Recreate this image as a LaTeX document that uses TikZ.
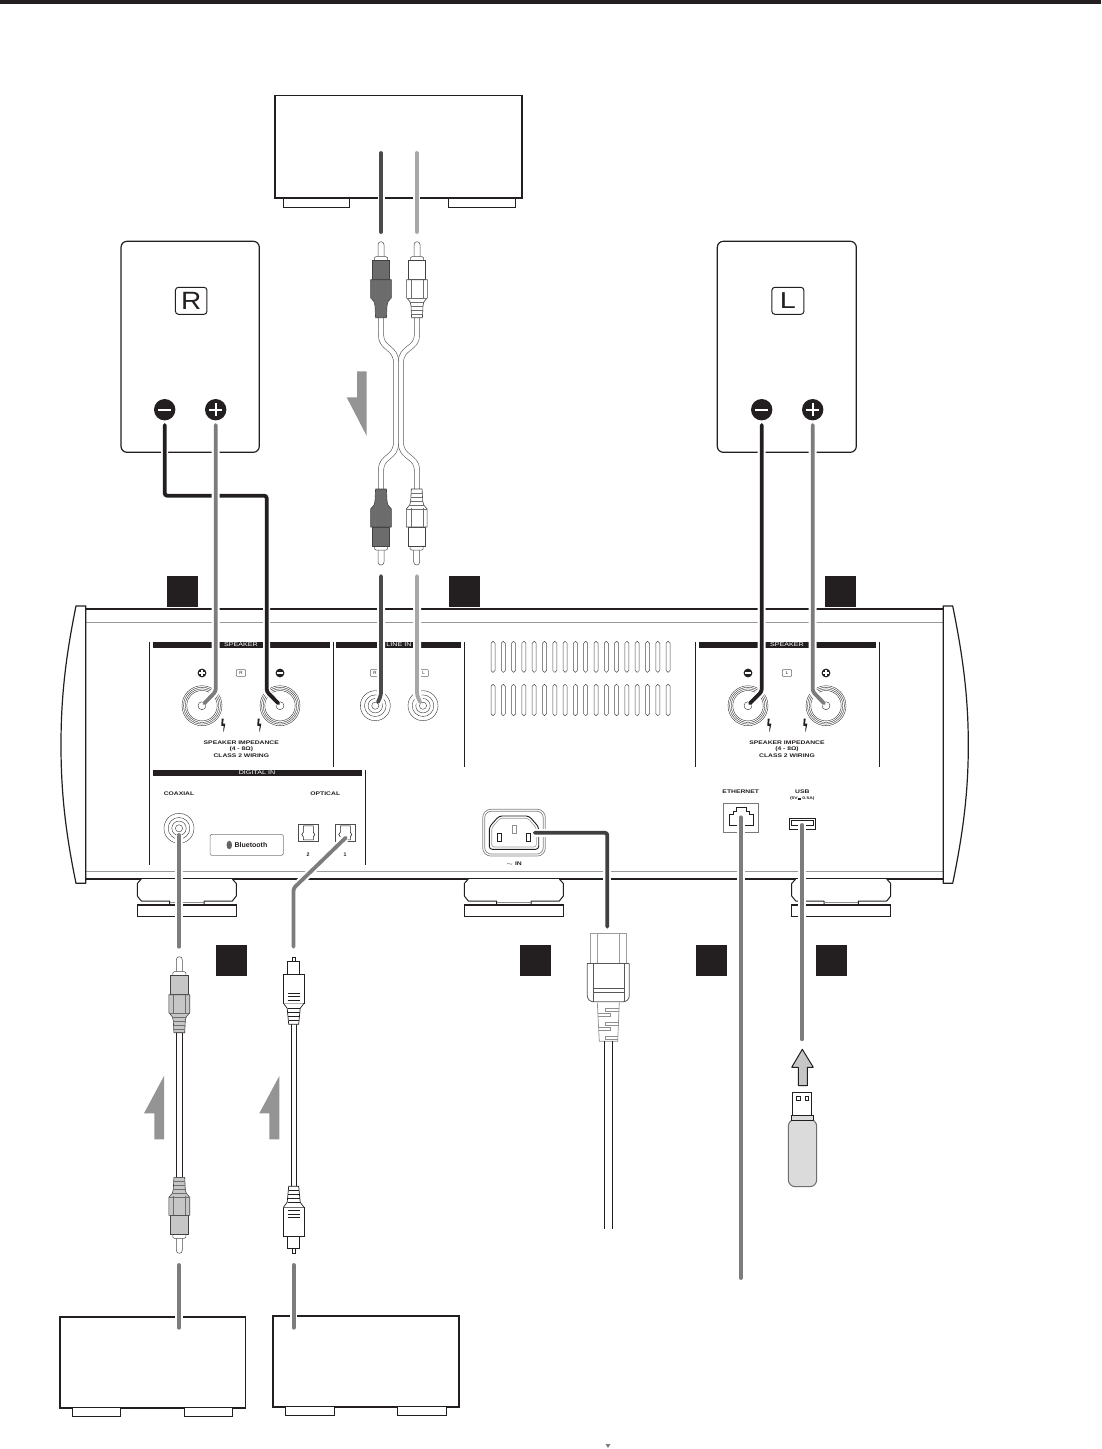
\documentclass[tikz,border=0pt]{standalone}
\usepackage{fontspec}
\setmainfont{Liberation Sans}
\usetikzlibrary{shapes.geometric}
\definecolor{ink}{HTML}{231F20}
\definecolor{wgrey}{HTML}{7C7C7C}
\definecolor{wdark}{HTML}{4A4A4A}
\definecolor{wlight}{HTML}{A8A8A8}
\definecolor{wpower}{HTML}{404040}
\definecolor{arrowgrey}{HTML}{949494}
\definecolor{plugdark}{HTML}{6C6C6C}
\definecolor{pluggrey}{HTML}{C6C6C6}
\newcommand{\widetxt}[1]{\scalebox{1.3}[1]{#1}}
\newcommand{\dcsym}{\makebox[2.6pt][l]{\rlap{\raisebox{1.5pt}{\rule{2.6pt}{.22pt}}}\raisebox{.7pt}{\rule{.7pt}{.22pt}\hspace{.25pt}\rule{.7pt}{.22pt}\hspace{.25pt}\rule{.7pt}{.22pt}}}}
\tikzset{
  ln/.style={draw=ink,line width=1pt},
  grey ln/.style={draw=black!40,line width=1pt},
  tag/.style={fill=ink,draw=none,minimum size=31pt,inner sep=0pt,outer sep=0pt},
  sign/.style={circle,fill=ink,draw=none,inner sep=0pt,outer sep=0pt},
  lab/.style={text=ink,inner sep=0pt,outer sep=0pt,font=\fontsize{5.2pt}{6pt}\bfseries\selectfont,align=center},
  barlab/.style={text=white,inner sep=0pt,font=\fontsize{5.5pt}{6pt}\selectfont},
  bar/.style={fill=ink,draw=none},
  halo/.style={draw=white,line width=8pt,line join=round},
  wire/.style={line width=3.8pt,line cap=round,line join=round,rounded corners=2.5pt},
  cable/.style={draw=ink!75,line width=.6pt,double=white,double distance=4.6pt},
  ring/.style={draw=ink,line width=.35pt},
  pics/rca/.style={code={
    \draw[draw=ink!80,line width=.5pt,fill=white] (-3,15) -- (-3,3) .. controls (-3,1) and (-1.5,0) .. (0,0) .. controls (1.5,0) and (3,1) .. (3,3) -- (3,15);
    \draw[draw=ink!80,line width=.5pt,fill=white] (-6.5,19) -- (-6.5,16) -- (-5,15) -- (5,15) -- (6.5,16) -- (6.5,19);
    \draw[draw=ink!85,line width=.6pt,fill=#1] (-8.7,19) rectangle (8.7,38);
    \draw[draw=ink!85,line width=.6pt,fill=#1] (-10.4,38) -- (10.4,38) -- (10.4,56) -- (7,60) -- (6,64) -- (5.4,76) -- (-5.4,76) -- (-6,64) -- (-7,60) -- (-10.4,56) -- cycle;
    \draw[draw=ink!65,line width=.4pt] (-6,38) -- (-6,57) (6,38) -- (6,57) (-10.4,56) -- (10.4,56)
      (-7,60) -- (7,60) (-6,64) -- (6,64) (-5.8,68) -- (5.8,68) (-5.5,72) -- (5.5,72);
  }},
  pics/toslink/.style={code={
    \draw[draw=ink,line width=.7pt,fill=white] (-1.7,0) rectangle (1.7,5);
    \draw[draw=ink,line width=.8pt,fill=white] (-6.1,4.5) rectangle (6.1,17);
    \draw[draw=ink,line width=.8pt,fill=white] (-10.3,17) rectangle (10.3,46);
    \draw[draw=ink,line width=.7pt,fill=white] (-10.3,46) -- (-6.5,51) -- (-5,67) -- (5,67) -- (6.5,51) -- (10.3,46);
    \draw[draw=ink,line width=.6pt] (-6,36) -- (6,36) (-6,39.4) -- (6,39.4) (-6,42.8) -- (6,42.8)
      (-6,51) -- (6,51) (-5.8,55) -- (5.8,55) (-5.5,59) -- (5.5,59) (-5.2,63) -- (5.2,63);
  }},
  pics/post/.style={code={
    \foreach \r in {20,18.4,16.8,15.2}{\draw[ring] (0,0) circle (\r);}
    \draw[ring] (0,0) circle (4);
  }},
  pics/jack/.style={code={
    \foreach \r in {15,10.8,7.2,3.6}{\draw[ring] (0,0) circle (\r);}
  }},
  pics/bolt/.style={code={
    \fill[ink] (-1.6,-6.5) -- (.4,-6.5) -- (-.3,-1.3) -- (2,-1.3) -- (.5,6.5) -- (0,6.5) -- (.3,.8) -- (-2,.8) -- cycle;
  }},
  pics/foot/.style={code={
    \draw[draw=ink,line width=1pt,fill=white,line join=round] (4,0) -- (0,4.5) -- (0,17) -- (4,22) -- (32.3,22) -- (32.3,26) -- (66.7,26) -- (66.7,22) -- (95,22) -- (99,17) -- (99,4.5) -- (95,0);
    \draw[draw=ink!50,line width=.6pt] (32.3,23) -- (66.7,23);
    \draw[draw=ink,line width=1.1pt,fill=white] (0,26) rectangle (99,37.7);
  }},
  pics/optsock/.style={code={
    \draw[draw=ink!80,line width=.7pt] (0,0) rectangle (20,17);
    \draw[draw=ink,line width=.6pt] (5,1.5) -- (15,1.5) -- (15,8) -- (16.5,10.2) -- (15,12.5) -- (15,15.5) -- (5,15.5) -- (5,12.5) -- (3.5,10.2) -- (5,8) -- cycle;
  }}
}
\begin{document}
\begin{tikzpicture}[x=1pt,y=-1pt]
\useasboundingbox (0,0) rectangle (1101,1449);
\fill[white] (0,0) rectangle (1101,1449);
% top rule
\fill[ink] (0,0) rectangle (1101,4);

% named wire points
\coordinate (srcL) at (381,153);   \coordinate (srcLe) at (381,232);
\coordinate (srcR) at (416.7,153); \coordinate (srcRe) at (416.7,232);
\coordinate (inL) at (381,576);    \coordinate (inLb) at (381,695);   \coordinate (inLe) at (378,702);
\coordinate (inR) at (417,576);    \coordinate (inRb) at (417,695);   \coordinate (inRe) at (420,702);
\coordinate (spRn) at (164.7,425); \coordinate (spRnb) at (164.7,495.7); \coordinate (spRnc) at (266.7,495.7);
\coordinate (poRnb) at (266.7,691.5); \coordinate (poRn) at (278.3,703.3);
\coordinate (spRp) at (215.7,425); \coordinate (poRpb) at (215.7,691.5); \coordinate (poRp) at (204.3,703.3);
\coordinate (spLn) at (761.7,425); \coordinate (poLnb) at (761.7,691.5); \coordinate (poLn) at (750,703.3);
\coordinate (spLp) at (812.7,425); \coordinate (poLpb) at (812.7,691.5); \coordinate (poLp) at (824,703.3);
\coordinate (coax) at (179,835);   \coordinate (coaxe) at (179,946.7);
\coordinate (opt) at (345.7,837.7); \coordinate (optb) at (293.5,888.3); \coordinate (opte) at (293.5,946.7);
\coordinate (pwr) at (534.7,832.7); \coordinate (pwrb) at (607.3,832.7); \coordinate (pwre) at (607.3,926.7);
\coordinate (eth) at (740.7,817.3); \coordinate (ethe) at (740.7,1278);
\coordinate (usb) at (802,825);    \coordinate (usbe) at (802,1039.3);
\coordinate (coaxs) at (179,1265); \coordinate (coaxd) at (179,1327.7);
\coordinate (opts) at (293.7,1265); \coordinate (optd) at (293.7,1327.7);

% source box (top)
\draw[ink,line width=1.1pt,fill=white] (275,95.3) rectangle (522,198);
\draw[ink,line width=1.8pt] (275,198) -- (522,198) (522,95.3) -- (522,198);
\draw[ln] (283.7,198) rectangle (349.7,207.5);
\draw[ln] (448,198) rectangle (515,207.5);

% speakers
\draw[ink,line width=1.2pt,rounded corners=6pt] (121,241.3) rectangle (259.3,452.3);
\draw[ink,line width=1.2pt,rounded corners=6pt] (717.3,241.3) rectangle (856.3,452.3);
\node[draw=ink,line width=1pt,rounded corners=3pt,minimum width=31.5pt,minimum height=27pt,inner sep=0pt,font=\fontsize{25pt}{25pt}\selectfont,text=ink] (badgeR) at (191.2,300.8) {\scalebox{1.12}[1]{R}};
\node[draw=ink,line width=1pt,rounded corners=3pt,minimum width=32pt,minimum height=27pt,inner sep=0pt,font=\fontsize{23pt}{23pt}\selectfont,text=ink] (badgeL) at (787.9,300.8) {\scalebox{1.25}[1]{L}};
\foreach \nm/\cx/\cy/\rad/\bs/\wdth in {sa/164.7/409.7/10.7/m/2.4,sb/215.7/409.7/10.7/p/2.4,sc/761.7/409.7/10.7/m/2.4,sd/812.7/409.7/10.7/p/2.4,
    pa/202/673/4.4/p/1.1,pb/280/673/4.4/m/1.1,pc/748/673/4.4/m/1.1,pd/826/673/4.4/p/1.1}{
  \node[sign,minimum size={2*\rad*1pt}] (\nm) at (\cx,\cy) {};
  \draw[white,line width=\wdth pt] (\cx-\rad*.62,\cy) -- (\cx+\rad*.62,\cy);
  \if p\bs \draw[white,line width=\wdth pt] (\cx,\cy-\rad*.62) -- (\cx,\cy+\rad*.62);\fi
}

% chassis
\draw[ink,line width=1.7pt] (85.7,609.3) -- (943.3,609.3);
\draw[grey ln] (85.7,622.3) -- (943.3,622.3);
\draw[grey ln] (85.7,871.7) -- (943.3,871.7);
\draw[ink,line width=2pt] (85.7,879.3) -- (943.3,879.3);
\draw[ink,line width=1.2pt,line join=round,fill=white] (85.7,606) -- (76,606) .. controls (65,660) and (61,700) .. (61,745) .. controls (61,790) and (65,830) .. (76,883.3) -- (85.7,883.3) -- cycle;
\draw[ink,line width=1.2pt,line join=round,fill=white] (943.3,606) -- (952.7,606) .. controls (963.7,660) and (968.3,700) .. (968.3,745) .. controls (968.3,790) and (963.7,830) .. (952.7,883.3) -- (943.3,883.3) -- cycle;
\pic at (137.3,879) {foot};
\pic at (464.3,879) {foot};
\pic at (791.7,879) {foot};

% panel dividers
\draw[ln] (149.3,642) -- (149.3,864.7);
\draw[ln] (333.3,642) -- (333.3,766.7);
\draw[ln] (464.3,642) -- (464.3,766.7);
\draw[ln] (365.3,770) -- (365.3,864.7);
\draw[ln] (695.3,642) -- (695.3,766.7);
\draw[ln] (879.3,642) -- (879.3,766.7);
% header bars
\fill[bar] (152.7,641.7) rectangle (330,647.7);
\fill[bar] (336,641.7) rectangle (461.3,647.7);
\fill[bar] (698.7,641.7) rectangle (876,647.7);
\fill[bar] (152.7,770) rectangle (362,776);
\node[barlab] (tsR) at (241,644.8) {\widetxt{SPEAKER}};
\node[barlab] (tsL) at (787,644.8) {\widetxt{SPEAKER}};
\node[barlab] (tli) at (399,644.8) {\widetxt{LINE IN}};
\node[barlab] (tdi) at (257,773) {\widetxt{DIGITAL IN}};

% vents
\foreach \i in {0,...,17}{
  \pgfmathsetmacro{\vx}{493+\i*10.3}
  \draw[draw=ink!80,line width=.5pt,rounded corners=1.9pt] (\vx-2,641.3) rectangle (\vx+2,672.3);
  \draw[draw=ink!80,line width=.5pt,rounded corners=1.9pt] (\vx-2,684.3) rectangle (\vx+2,715.7);
}

% speaker posts
\pic at (202,705.7) {post};
\pic at (280,705.7) {post};
\pic at (748,705.7) {post};
\pic at (826,705.7) {post};
\pic at (223.3,725) {bolt};
\pic at (259.3,725) {bolt};
\pic at (769.3,725) {bolt};
\pic at (805.3,725) {bolt};
\foreach \nm/\cx/\t in {bRa/241/R,bRb/787/L,bLa/375/R,bLb/423.7/L}{
  \node[draw=ink!70,line width=.5pt,rounded corners=.8pt,minimum width=9.4pt,minimum height=6.6pt,inner sep=0pt,font=\fontsize{4.5pt}{5pt}\selectfont,text=ink] (\nm) at (\cx,673) {\t};
}
\node[lab] (imp1) at (241.3,743) {\widetxt{SPEAKER IMPEDANCE}};
\node[lab] (imp2) at (241.3,749.3) {\widetxt{(4 - 8Ω)}};
\node[lab] (imp3) at (241.3,755.3) {\widetxt{CLASS 2 WIRING}};
\node[lab] (imp4) at (787,743) {\widetxt{SPEAKER IMPEDANCE}};
\node[lab] (imp5) at (787,749.3) {\widetxt{(4 - 8Ω)}};
\node[lab] (imp6) at (787,755.3) {\widetxt{CLASS 2 WIRING}};
\pic at (375.3,705.7) {jack};
\pic at (423,705.7) {jack};

% digital in
\node[lab] (tcoax) at (179,793.7) {\widetxt{COAXIAL}};
\node[lab] (topt) at (325.3,793.7) {\widetxt{OPTICAL}};
\pic at (179,828.3) {jack};
\pic at (298.3,824.3) {optsock};
\pic at (335.3,824.3) {optsock};
\node[lab] (t2) at (308,854.7) {2};
\node[lab] (t1) at (345,854.7) {1};
\node[draw=ink!60,line width=.6pt,rounded corners=1.5pt,minimum width=73.3pt,minimum height=21pt,inner sep=0pt] (bt) at (246.7,844.8) {};
\node[lab,font=\fontsize{7pt}{7pt}\bfseries\selectfont] (btt) at (251,845) {Bluetooth};
\node[ellipse,fill=ink!70,draw=none,minimum width=5.5pt,minimum height=8.5pt,inner sep=0pt] (bts) at (229.3,845) {};

% power inlet
\draw[draw=ink!55,line width=.7pt,rounded corners=8pt] (482.7,809.3) rectangle (545.3,856);
\draw[draw=ink!55,line width=.7pt,rounded corners=6.5pt] (484.7,811.3) rectangle (543.3,854);
\draw[ink,line width=.9pt,rounded corners=3pt] (489.3,827) -- (499,816) -- (529,816) -- (538.7,827) -- (538.7,849.3) -- (489.3,849.3) -- cycle;
\draw[draw=ink!45,line width=.6pt,rounded corners=2.5pt] (491.7,828) -- (500,818.2) -- (528,818.2) -- (536.3,828) -- (536.3,847) -- (491.7,847) -- cycle;
\draw[ink,line width=.7pt] (497.7,833.7) rectangle (501.7,841.7);
\draw[draw=ink!50,line width=.7pt] (512.3,825) rectangle (516.3,833);
\draw[ink,line width=.7pt] (526.7,833.7) rectangle (530.7,841.7);
\node[lab] (tin) at (514,863.7) {\widetxt{$\sim$ IN}};

% ethernet and usb
\node[lab] (teth) at (740.7,791.3) {\widetxt{ETHERNET}};
\draw[draw=ink!60,line width=.7pt] (723.3,803.3) rectangle (758.3,832.7);
\draw[ink,line width=.8pt] (729.3,825) -- (729.3,814.3) -- (733.7,814.3) -- (733.7,811) -- (736.7,811) -- (736.7,807.7) -- (746,807.7) -- (746,811) -- (749.3,811) -- (749.3,814.3) -- (753.3,814.3) -- (753.3,825) -- cycle;
\node[lab] (tusb) at (802.3,791.3) {\widetxt{USB}};
\node[lab,font=\fontsize{3.8pt}{4pt}\bfseries\selectfont] (tusb2) at (802.3,798.7) {\widetxt{(5V\dcsym{} 0.5A)}};
\draw[ink,line width=1pt] (789.3,818.3) rectangle (815.7,829.3);
\draw[ink,line width=.6pt] (791.5,820) rectangle (813.5,825);

% halos + wires
\draw[halo,line width=7pt] (srcL) -- (srcLe);
\draw[halo,line width=7pt] (srcR) -- (srcRe);
\draw[wire,wdark] (srcL) -- (srcLe);
\draw[wire,wlight] (srcR) -- (srcRe);
\draw[halo] (inL) -- (inLb) -- (inLe);
\draw[halo] (inR) -- (inRb) -- (inRe);
\draw[wire,wdark] (inL) -- (inLb) -- (inLe);
\draw[wire,wlight] (inR) -- (inRb) -- (inRe);
\draw[halo,line width=7pt] (spRn) -- (spRnb) -- (spRnc) -- (poRnb) -- (poRn);
\draw[wire,ink] (spRn) -- (spRnb) -- (spRnc) -- (poRnb) -- (poRn);
\draw[halo] (spRp) -- (poRpb) -- (poRp);
\draw[wire,wgrey] (spRp) -- (poRpb) -- (poRp);
\draw[halo] (spLn) -- (poLnb) -- (poLn);
\draw[wire,ink] (spLn) -- (poLnb) -- (poLn);
\draw[halo] (spLp) -- (poLpb) -- (poLp);
\draw[wire,wgrey] (spLp) -- (poLpb) -- (poLp);
\draw[halo] (coax) -- (coaxe);
\draw[wire,wgrey] (coax) -- (coaxe);
\draw[halo] (opt) -- (optb) -- (opte);
\draw[wire,wgrey] (opt) -- (optb) -- (opte);
\draw[halo] (pwr) -- (pwrb) -- (pwre);
\draw[wire,wpower] (pwr) -- (pwrb) -- (pwre);
\draw[halo] (eth) -- (ethe);
\draw[wire,wgrey] (eth) -- (ethe);
\draw[halo] (usb) -- (usbe);
\draw[wire,wgrey] (usb) -- (usbe);

% tag squares
\node[tag] (tagA) at (182.5,591.3) {};
\node[tag] (tagB) at (464,591.3) {};
\node[tag] (tagC) at (840,591.3) {};
\node[tag] (tagD) at (231.5,960.5) {};
\node[tag] (tagE) at (535.5,960.5) {};
\node[tag] (tagF) at (711.5,960.5) {};
\node[tag] (tagG) at (831.5,960.5) {};

% line cable
\draw[cable] (381,317) -- (381,335) .. controls (381,349) and (396,347) .. (396,362) -- (396,443) .. controls (396,458) and (381,456) .. (381,470) -- (381,490);
\draw[cable] (417,317) -- (417,335) .. controls (417,349) and (401,347) .. (401,362) -- (401,443) .. controls (401,458) and (417,456) .. (417,470) -- (417,490);
\pic at (381,241.7) {rca=plugdark};
\pic at (417,241.7) {rca=white};
\pic[yscale=-1] at (381,565) {rca=plugdark};
\pic[yscale=-1] at (416.7,565) {rca=white};
\fill[arrowgrey] (357,371.3) -- (366.7,371.3) -- (366.7,436) -- (346.7,397.3) -- (357,397.3) -- cycle;

% coax cable
\draw[ink,line width=1pt,fill=white] (176,1032) rectangle (182.6,1177);
\pic at (179.3,956.7) {rca=pluggrey};
\pic[yscale=-1] at (179.3,1253.3) {rca=pluggrey};
\fill[arrowgrey] (154.3,1139.3) -- (164,1139.3) -- (164,1076) -- (144,1113.3) -- (154.3,1113.3) -- cycle;

% optical cable
\draw[ink,line width=1pt,fill=white] (291.2,1023) rectangle (296.2,1187);
\pic at (293.7,957.3) {toslink};
\pic[yscale=-1] at (293.7,1253.3) {toslink};
\fill[arrowgrey] (269.3,1139.3) -- (279.3,1139.3) -- (279.3,1076) -- (259.3,1113.3) -- (269.3,1113.3) -- cycle;

% mains plug
\draw[draw=ink!45,line width=.8pt] (590,963.3) -- (590,933.3) -- (626.7,933.3) -- (626.7,963.3);
\draw[draw=ink!45,line width=.8pt] (597.7,933.3) -- (597.7,963.3) (619.3,933.3) -- (619.3,963.3);
\draw[draw=ink!75,line width=.8pt,rounded corners=6pt] (587.3,963.3) -- (587.3,1001.7) -- (629.3,1001.7) -- (629.3,963.3);
\draw[draw=ink!75,line width=.8pt] (587.3,963.3) -- (629.3,963.3);
\draw[draw=ink!75,line width=.7pt] (593.3,963.3) -- (593.3,1001.7) (624,963.3) -- (624,1001.7) (593.3,988.3) -- (624,988.3) (593.3,992.7) -- (624,992.7);
\draw[draw=ink!50,line width=.7pt] (597.3,1002.3) -- (599.3,1041.3) -- (617.7,1041.3) -- (619.3,1002.3);
\draw[draw=ink!50,line width=.7pt] (619,1008) -- (605.5,1008) -- (605.5,1011) -- (619,1011)
  (598,1013) -- (610,1013) -- (610,1016) -- (598,1016)
  (618.5,1022) -- (605.5,1022) -- (605.5,1025) -- (618.5,1025)
  (598.5,1027) -- (610,1027) -- (610,1030) -- (598.5,1030)
  (618,1036) -- (605,1036) -- (605,1039) -- (618,1039);
\draw[ink,line width=1pt] (604.3,1041.3) -- (604.3,1228.7) (612.3,1041.3) -- (612.3,1228.7);

% usb stick
\draw[ink,line width=1pt,fill=pluggrey,line join=round] (802.3,1049.3) -- (813.3,1067.3) -- (807.3,1067.3) -- (807.3,1085.7) -- (798.3,1085.7) -- (798.3,1067.3) -- (791.7,1067.3) -- cycle;
\draw[ink,line width=1pt,fill=white] (792.3,1092.3) rectangle (811.7,1116);
\draw[ink,line width=.8pt] (796.7,1096.3) rectangle (800.7,1100.3);
\draw[ink,line width=.8pt] (805.3,1096) rectangle (808.7,1100.5);
\draw[draw=ink!65,line width=1pt,fill=black!14,rounded corners=7pt] (788.3,1119.3) -- (788.3,1186.7) -- (816.7,1186.7) -- (816.7,1119.3) -- cycle;
\draw[ink,line width=1pt,fill=black!14] (791.3,1115.7) rectangle (813.3,1120.3);

% bottom boxes
\draw[ink,line width=1.7pt,fill=white] (60,1316.7) rectangle (245.5,1407.7);
\draw[ln,fill=white] (72.5,1407.7) rectangle (120.6,1416);
\draw[ln,fill=white] (184,1407.7) rectangle (232.6,1416);
\draw[ink,line width=1.7pt,fill=white] (273,1315.7) rectangle (459,1406.7);
\draw[ln,fill=white] (285.7,1406.7) rectangle (334,1415);
\draw[ln,fill=white] (397.7,1406.7) rectangle (446.2,1415);
\draw[halo,line width=7.5pt] (coaxs) -- (coaxd);
\draw[wire,wgrey] (coaxs) -- (coaxd);
\draw[halo,line width=7.5pt] (opts) -- (optd);
\draw[wire,wgrey] (opts) -- (optd);
\fill[black!50] (605.5,1444) -- (610.5,1444) -- (608,1448) -- cycle;
\end{tikzpicture}
\end{document}
